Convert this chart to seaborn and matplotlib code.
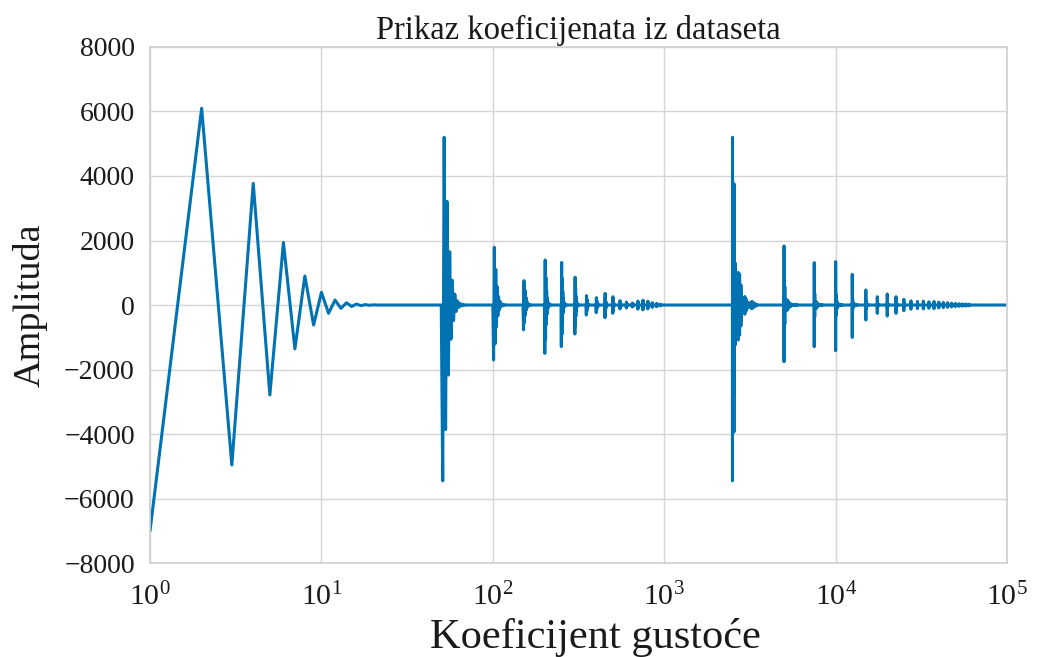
import numpy as np
import pandas as pd
import matplotlib
matplotlib.use("Agg")
import matplotlib.pyplot as plt
import seaborn as sns

# ---- values ----
# first coefficients (x = 1, 2, 3, ...)
head = [-7000, 6100, -4960, 3770, -2790, 1940, -1360, 900, -620, 394,
        -258, 155, -103, 71, -45, 30, -20, 12, -8, 5]

# bursts every 50 coefficients (x = 51, 101, ..., 951): max / min
mid_top = [5200, 1790, 755, 1395, 1320, 860, 290, 227, 362, 258,
           134, 90, 60, 120, 150, 120, 70, 50, 25]
mid_bot = [-5450, -1705, -770, -1500, -1290, -900, -310, -238, -393, -258,
           -124, -90, -60, -130, -150, -120, -70, -50, -25]

# bursts every 2500 coefficients (x = 2501, 5001, ...): max / min / shoulder
far_top = [5200, 1830, 1313, 1344, 951, 465, 258, 341, 258, 176, 130, 110,
           120, 100, 110, 90, 80, 70, 60, 50, 40, 35, 30, 25]
far_bot = [-5450, -1757, -1292, -1416, -1003, -465, -258, -341, -258, -176,
           -130, -110, -120, -100, -110, -90, -80, -70, -60, -50, -40, -35,
           -30, -25]
far_shoulder = [3940, 600, 370, 330, 250, 120, 70, 90, 70, 50, 35, 30,
                30, 25, 25, 20, 20, 15, 15, 12, 10, 8, 8, 6]

n_total = 100000
title = "Prikaz koeficijenata iz dataseta"
xlabel = "Koeficijent gustoće"
ylabel = "Amplituda"

# ---- assemble the series from the read values ----
head_pad = np.zeros(50)
head_pad[:len(head)] = head
pos_ref = max(head)
neg_ref = -min(head)


def shape(top, bot):
    return np.where(head_pad > 0, head_pad * top / pos_ref,
                    head_pad * abs(bot) / neg_ref)


block0 = np.zeros(2500)
block0[:50] = head_pad
for j, (t, b) in enumerate(zip(mid_top, mid_bot), start=1):
    block0[50 * j:50 * j + 50] = shape(t, b)

series = np.zeros(n_total)
series[:2500] = block0
for k, (t, b, s) in enumerate(zip(far_top, far_bot, far_shoulder), start=1):
    seg = block0 * (s / 5450.0)
    seg[:50] = shape(t, b)
    series[2500 * k:2500 * k + 2500] = seg

df = pd.DataFrame({"x": np.arange(1, n_total + 1), "y": series})

# ---- plot ----
sns.set_theme(style="whitegrid")
plt.rcParams["font.family"] = ["Liberation Serif", "DejaVu Serif"]
plt.rcParams["mathtext.fontset"] = "stix"
plt.rcParams["axes.edgecolor"] = "#d0d0d0"
plt.rcParams["grid.color"] = "#d5d5d5"
for key in ["text.color", "axes.labelcolor", "xtick.color", "ytick.color"]:
    plt.rcParams[key] = "#1a1a1a"

fig = plt.figure(figsize=(10.37, 6.57), dpi=100)
ax = fig.add_axes([0.1447, 0.143, 0.9711 - 0.1447, 0.9285 - 0.143])

sns.lineplot(data=df, x="x", y="y", ax=ax, estimator=None, sort=False,
             color="#0173B2", linewidth=2.2)

ax.set_xscale("log")
ax.set_xlim(1, 1e5)
ax.set_ylim(-8000, 8000)
ax.set_yticks(np.arange(-8000, 8001, 2000))
ax.set_xticks([1, 10, 100, 1000, 10000, 100000])
ax.tick_params(axis="y", labelsize=20, pad=5)
ax.tick_params(axis="x", labelsize=21.5, pad=8)
ax.grid(True, which="major")
ax.grid(False, which="minor")

ax.set_title(title, fontsize=23.5, pad=6)
ax.set_xlabel(xlabel, fontsize=30.5, labelpad=5, x=0.52)
ax.set_ylabel(ylabel, fontsize=27.5, labelpad=12)

fig.savefig("out.png", dpi=100)
